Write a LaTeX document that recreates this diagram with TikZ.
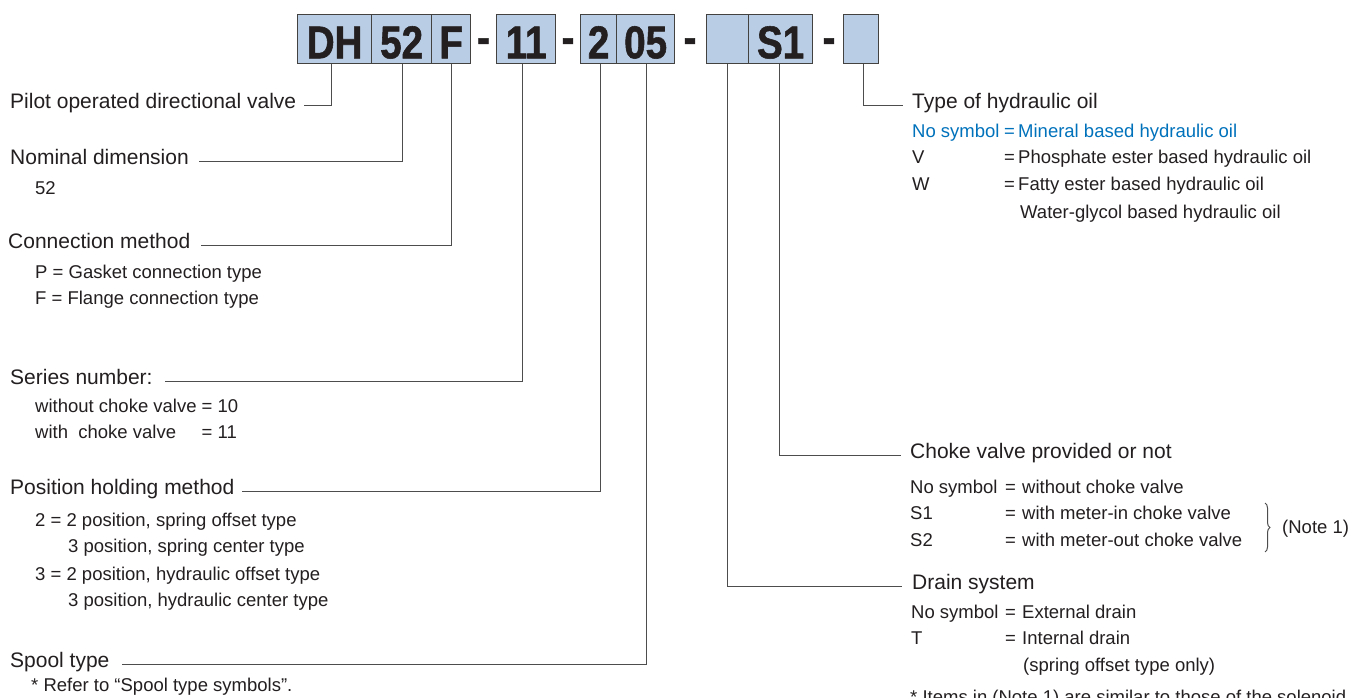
\documentclass[tikz,border=0pt]{standalone}
\usepackage{fontspec}
\setmainfont{Liberation Sans}
\newfontfamily\boxfont[FakeStretch=0.84,FakeBold=1.2]{Liberation Sans}
\usetikzlibrary{decorations.pathreplacing}
\definecolor{boxblue}{HTML}{B9CDE5}
\definecolor{ink}{HTML}{231F20}
\definecolor{linegray}{HTML}{4D4D4D}
\definecolor{noteblue}{HTML}{0072BC}
\begin{document}
\begin{tikzpicture}[x=1pt,y=-1pt,
  codebox/.style={draw=ink!85, line width=1.3pt, fill=boxblue, minimum height=49pt, inner sep=0pt, anchor=north west},
  codetext/.style={anchor=base, inner sep=0pt, text=ink, font=\boxfont\bfseries\fontsize{46}{46}\selectfont},
  head/.style={anchor=base west, inner sep=0pt, text=ink, font=\fontsize{21}{25}\selectfont},
  sub/.style={anchor=base west, inner sep=0pt, text=ink, font=\fontsize{18.5}{22}\selectfont},
  blue/.style={text=noteblue},
  conn/.style={draw=linegray, line width=1pt}]
\useasboundingbox (0,0) rectangle (1349,698);
\fill[white] (0,0) rectangle (1349,698);
% code boxes
\node[codebox, minimum width=74pt] (bDH) at (297,14) {};
\node[codebox, minimum width=60pt] (b52) at (371,14) {};
\node[codebox, minimum width=39pt] (bF) at (431,14) {};
\node[codebox, minimum width=59pt] (b11) at (496,14) {};
\node[codebox, minimum width=36pt] (b2) at (580,14) {};
\node[codebox, minimum width=58pt] (b05) at (616,14) {};
\node[codebox, minimum width=42pt] (bE1) at (706,14) {};
\node[codebox, minimum width=64pt] (bS1) at (748,14) {};
\node[codebox, minimum width=35pt] (bE2) at (843,14) {};
\node[codetext] (tDH) at ([yshift=6pt]bDH.south) {DH};
\node[codetext] (t52) at ([yshift=6pt]b52.south) {52};
\node[codetext] (tF) at ([yshift=6pt]bF.south) {F};
\node[codetext] (t11) at ([yshift=6pt]b11.south) {11};
\node[codetext] (t2) at ([yshift=6pt]b2.south) {2};
\node[codetext] (t05) at ([yshift=6pt]b05.south) {05};
\node[codetext] (tS1) at ([yshift=6pt]bS1.south) {S1};
\node[codetext] (h1) at (483.5,53) {-};
\node[codetext] (h2) at (568,53) {-};
\node[codetext] (h3) at (690,53) {-};
\node[codetext] (h4) at (829,53) {-};
% left labels
\node[head] (pilot) at (10,108.5) {Pilot operated directional valve};
\node[head] (nom) at (10,164.5) {Nominal dimension};
\node[sub] (n52) at (35,194.5) {52};
\node[head] (cmeth) at (8,248.5) {Connection method};
\node[sub] (cP) at (35,278.5) {P = Gasket connection type};
\node[sub] (cF) at (35,304.5) {F = Flange connection type};
\node[head] (ser) at (10,384.5) {Series number:};
\node[sub] (s10) at (35,412.5) {without choke valve};
\node[sub] (s10v) at (201.5,412.5) {= 10};
\node[sub] (s11) at (35,438.5) {with\ \ choke valve};
\node[sub] (s11v) at (201.5,438.5) {= 11};
\node[head] (pos) at (10,494.5) {Position holding method};
\node[sub] (p2) at (35,526.5) {2 = 2 position, spring offset type};
\node[sub] (p2b) at (68,552.5) {3 position, spring center type};
\node[sub] (p3) at (35,580.5) {3 = 2 position, hydraulic offset type};
\node[sub] (p3b) at (68,606.5) {3 position, hydraulic center type};
\node[head] (spool) at (10,667) {Spool type};
\node[sub] (sref) at (31,691) {* Refer to “Spool type symbols”.};
% right labels: oil
\node[head] (oil) at (912,108.5) {Type of hydraulic oil};
\node[sub, blue] (o1) at (912,137.5) {No symbol};
\node[sub, blue] (o1e) at (1004,137.5) {=};
\node[sub, blue] (o1r) at (1018,137.5) {Mineral based hydraulic oil};
\node[sub] (o2) at (912,163.5) {V};
\node[sub] (o2e) at (1004,163.5) {=};
\node[sub] (o2r) at (1018,163.5) {Phosphate ester based hydraulic oil};
\node[sub] (o3) at (912,190.5) {W};
\node[sub] (o3e) at (1004,190.5) {=};
\node[sub] (o3r) at (1018,190.5) {Fatty ester based hydraulic oil};
\node[sub] (o4r) at (1020,218.5) {Water-glycol based hydraulic oil};
% choke
\node[head] (choke) at (910,458.5) {Choke valve provided or not};
\node[sub] (k1) at (910,493.5) {No symbol};
\node[sub] (k1e) at (1005,493.5) {=};
\node[sub] (k1r) at (1022,493.5) {without choke valve};
\node[sub] (k2) at (910,519.5) {S1};
\node[sub] (k2e) at (1005,519.5) {=};
\node[sub] (k2r) at (1022,519.5) {with meter-in choke valve};
\node[sub] (k3) at (910,546.5) {S2};
\node[sub] (k3e) at (1005,546.5) {=};
\node[sub] (k3r) at (1022,546.5) {with meter-out choke valve};
\coordinate (braceT) at (1265,503);
\coordinate (braceB) at (1265,552);
\draw[conn, decorate, decoration={brace, amplitude=5pt}] (braceT) -- (braceB);
\node[sub] (note) at (1282,533.5) {(Note 1)};
% drain
\node[head] (drain) at (912,589.5) {Drain system};
\node[sub] (d1) at (911,618.5) {No symbol};
\node[sub] (d1e) at (1005,618.5) {=};
\node[sub] (d1r) at (1022,618.5) {External drain};
\node[sub] (d2) at (911,644.5) {T};
\node[sub] (d2e) at (1005,644.5) {=};
\node[sub] (d2r) at (1022,644.5) {Internal drain};
\node[sub] (d3) at (1023,671.5) {(spring offset type only)};
\node[sub] (foot) at (910,703) {* Items in (Note 1) are similar to those of the solenoid};
% connectors
\draw[conn] ([xshift=-3pt]bDH.south) |- ([xshift=8pt]pilot.mid east);
\draw[conn] ([xshift=1pt]b52.south) |- ([xshift=10pt]nom.mid east);
\draw[conn] (bF.south) |- ([xshift=10pt]cmeth.mid east);
\draw[conn] ([xshift=-3.5pt]b11.south) |- ([xshift=12pt]ser.mid east);
\draw[conn] ([xshift=2pt]b2.south) |- ([xshift=7pt]pos.mid east);
\draw[conn] ([xshift=1pt]b05.south) |- ([xshift=12pt]spool.mid east);
\draw[conn] (bE1.south) |- ([xshift=-10pt]drain.mid west);
\draw[conn] ([xshift=-1pt]bS1.south) |- ([xshift=-9pt]choke.mid west);
\draw[conn] ([xshift=2.5pt]bE2.south) |- ([xshift=-9pt]oil.mid west);
\end{tikzpicture}
\end{document}
